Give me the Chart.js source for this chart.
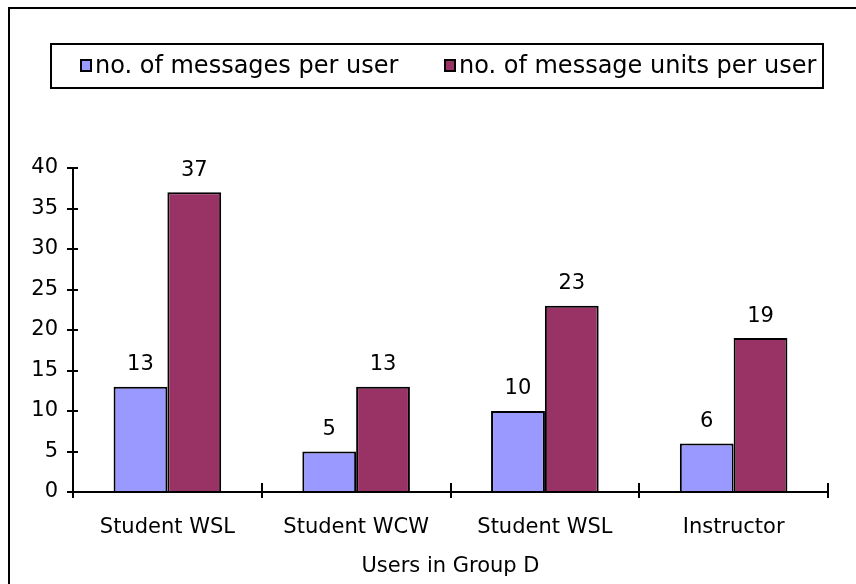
<!DOCTYPE html>
<html>
<head>
<meta charset="utf-8">
<script src="https://cdn.jsdelivr.net/npm/chart.js@4.4.1/dist/chart.umd.min.js"></script>
<style>
  html, body { margin: 0; padding: 0; background: #fff; }
  #wrap { width: 856px; height: 584px; }
</style>
</head>
<body>
<div id="wrap"><canvas id="c" width="856" height="584"></canvas></div>
<script>
const categories = ["Student WSL", "Student WCW", "Student WSL", "Instructor"];
const messagesPerUser = [13, 5, 10, 6];
const unitsPerUser = [37, 13, 23, 19];
const seriesLabels = ["no. of messages per user", "no. of message units per user"];
const axisTitleX = "Users in Group D";
const yMin = 0, yMax = 40, yStep = 5;

const FONT = "'DejaVu Sans', Verdana, sans-serif";
const FS = 21;
const LEG_FS = 24;

const decorPlugin = {
  id: 'decor',
  afterDraw(chart) {
    const ctx = chart.ctx;
    const xs = chart.scales.x, ys = chart.scales.y;
    ctx.save();
    // outer frame (only left and top edges are visible in the crop)
    ctx.strokeStyle = '#000';
    ctx.lineWidth = 2;
    ctx.beginPath();
    ctx.moveTo(9, 584);
    ctx.lineTo(9, 8);
    ctx.lineTo(856, 8);
    ctx.stroke();

    // legend box
    ctx.lineWidth = 2;
    ctx.strokeRect(51, 44, 772, 44);
    const itemX = [81, 445];
    chart.data.datasets.forEach((ds, i) => {
      const x = itemX[i];
      ctx.fillStyle = ds.backgroundColor;
      ctx.fillRect(x, 60, 10, 11);
      ctx.lineWidth = 2;
      ctx.strokeStyle = '#000';
      ctx.strokeRect(x, 60, 10, 11);
      ctx.fillStyle = '#000';
      ctx.font = LEG_FS + 'px ' + FONT;
      ctx.textBaseline = 'alphabetic';
      ctx.textAlign = 'left';
      ctx.fillText(ds.label, x + 14, 73);
    });

    // inner parts of tick marks (crossing the axes)
    ctx.strokeStyle = '#000';
    ctx.lineWidth = 2;
    ctx.beginPath();
    ys.ticks.forEach((t, i) => {
      const py = Math.round(ys.getPixelForTick(i));
      ctx.moveTo(xs.left, py);
      ctx.lineTo(xs.left + 5, py);
    });
    const n = categories.length;
    const w = (xs.right - xs.left) / n;
    for (let i = 0; i <= n; i++) {
      const px = Math.round(xs.left + i * w);
      ctx.moveTo(px, ys.bottom);
      ctx.lineTo(px, ys.bottom - 9);
    }
    ctx.stroke();

    // data labels
    ctx.fillStyle = '#000';
    ctx.font = FS + 'px ' + FONT;
    ctx.textAlign = 'center';
    ctx.textBaseline = 'middle';
    chart.data.datasets.forEach((ds, di) => {
      const meta = chart.getDatasetMeta(di);
      meta.data.forEach((bar, j) => {
        ctx.fillText(String(ds.data[j]), bar.x, bar.y - 22);
      });
    });
    ctx.restore();
  }
};

new Chart(document.getElementById('c'), {
  type: 'bar',
  data: {
    labels: categories,
    datasets: [
      { label: seriesLabels[0], data: messagesPerUser, backgroundColor: '#9999FF', borderColor: '#000', borderWidth: 2 },
      { label: seriesLabels[1], data: unitsPerUser, backgroundColor: '#993366', borderColor: '#000', borderWidth: 2 }
    ]
  },
  options: {
    responsive: false,
    animation: false,
    devicePixelRatio: 1,
    layout: { padding: { left: 0, right: 28, top: 168, bottom: 0 } },
    datasets: { bar: { categoryPercentage: 0.57, barPercentage: 1.0 } },
    plugins: {
      legend: { display: false },
      tooltip: { enabled: false }
    },
    scales: {
      x: {
        grid: { display: true, drawOnChartArea: false, drawTicks: true, tickLength: 6, color: '#000', lineWidth: 2, offset: true },
        border: { display: true, color: '#000', width: 2 },
        ticks: { color: '#000', font: { family: FONT, size: FS }, padding: 17, maxRotation: 0 },
        title: { display: true, text: axisTitleX, color: '#000', font: { family: FONT, size: FS }, padding: { top: 0, bottom: 5 } },
        afterFit(s) { s.height = 92; }
      },
      y: {
        min: yMin, max: yMax,
        grid: { display: true, drawOnChartArea: false, drawTicks: true, tickLength: 6, color: '#000', lineWidth: 2 },
        border: { display: true, color: '#000', width: 2 },
        ticks: { stepSize: yStep, color: '#000', font: { family: FONT, size: FS }, padding: 9 },
        afterFit(s) { s.width = 73; }
      }
    }
  },
  plugins: [decorPlugin]
});
</script>
</body>
</html>
